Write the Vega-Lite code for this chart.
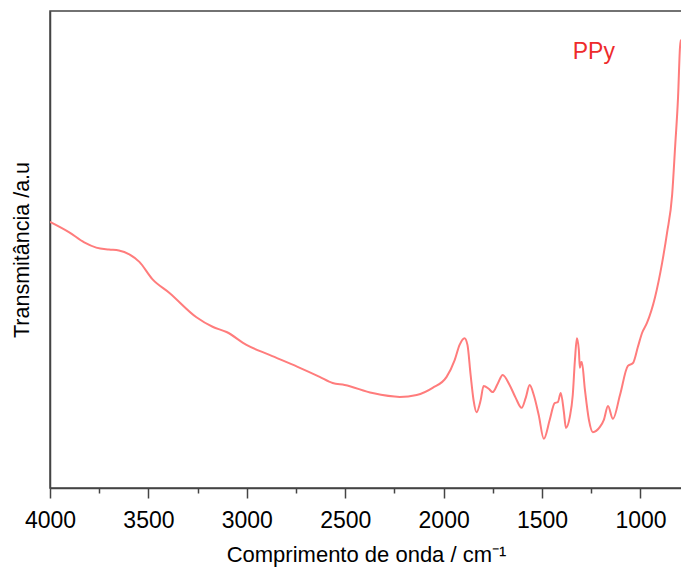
{
  "$schema": "https://vega.github.io/schema/vega-lite/v6.json",
  "width": 632,
  "height": 477,
  "autosize": {"type": "none"},
  "padding": {"left": 50, "top": 11, "right": 0, "bottom": 87},
  "background": "white",
  "config": {
    "view": {"stroke": "#444444", "strokeWidth": 1.5},
    "font": "Liberation Sans"
  },
  "layer": [
    {
      "data": {
        "values": [
          {"wn": 4000, "T": 55.8}, {"wn": 3902, "T": 53.6}, {"wn": 3826, "T": 51.5}, {"wn": 3765, "T": 50.4},
          {"wn": 3700, "T": 50.0}, {"wn": 3650, "T": 49.8}, {"wn": 3597, "T": 49.0}, {"wn": 3546, "T": 47.4},
          {"wn": 3480, "T": 43.8}, {"wn": 3393, "T": 40.9}, {"wn": 3256, "T": 35.8}, {"wn": 3174, "T": 33.8},
          {"wn": 3103, "T": 32.7}, {"wn": 3002, "T": 30.0}, {"wn": 2885, "T": 27.9}, {"wn": 2742, "T": 25.4},
          {"wn": 2630, "T": 23.3}, {"wn": 2564, "T": 22.0}, {"wn": 2503, "T": 21.6}, {"wn": 2361, "T": 19.9},
          {"wn": 2223, "T": 19.1}, {"wn": 2137, "T": 19.5}, {"wn": 2056, "T": 21.0}, {"wn": 1985, "T": 23.3},
          {"wn": 1944, "T": 26.8}, {"wn": 1919, "T": 30.0}, {"wn": 1894, "T": 31.4}, {"wn": 1879, "T": 30.0},
          {"wn": 1863, "T": 23.7}, {"wn": 1848, "T": 18.4}, {"wn": 1833, "T": 15.9}, {"wn": 1812, "T": 18.4},
          {"wn": 1797, "T": 21.4}, {"wn": 1771, "T": 20.8}, {"wn": 1751, "T": 20.1}, {"wn": 1726, "T": 21.8},
          {"wn": 1700, "T": 23.7}, {"wn": 1665, "T": 21.6}, {"wn": 1634, "T": 18.9}, {"wn": 1604, "T": 16.8},
          {"wn": 1583, "T": 18.9}, {"wn": 1563, "T": 21.6}, {"wn": 1542, "T": 19.5}, {"wn": 1517, "T": 15.3},
          {"wn": 1491, "T": 10.3}, {"wn": 1461, "T": 14.3}, {"wn": 1436, "T": 17.8}, {"wn": 1420, "T": 18.0},
          {"wn": 1405, "T": 19.9}, {"wn": 1389, "T": 15.9}, {"wn": 1379, "T": 12.6}, {"wn": 1359, "T": 14.9},
          {"wn": 1344, "T": 19.5}, {"wn": 1333, "T": 26.8}, {"wn": 1323, "T": 31.4}, {"wn": 1313, "T": 28.9},
          {"wn": 1308, "T": 25.2}, {"wn": 1303, "T": 26.2}, {"wn": 1298, "T": 26.4}, {"wn": 1282, "T": 20.5},
          {"wn": 1262, "T": 14.3}, {"wn": 1242, "T": 11.7}, {"wn": 1206, "T": 12.8}, {"wn": 1186, "T": 14.3},
          {"wn": 1165, "T": 17.2}, {"wn": 1140, "T": 14.5}, {"wn": 1104, "T": 19.5}, {"wn": 1064, "T": 25.6},
          {"wn": 1038, "T": 26.2}, {"wn": 1013, "T": 29.6}, {"wn": 992, "T": 32.5}, {"wn": 967, "T": 34.6},
          {"wn": 926, "T": 40.0}, {"wn": 890, "T": 47.2}, {"wn": 865, "T": 53.5}, {"wn": 839, "T": 61.5},
          {"wn": 824, "T": 71.5}, {"wn": 809, "T": 82.0}, {"wn": 799, "T": 92.5}, {"wn": 794, "T": 94.0}
        ]
      },
      "mark": {"type": "line", "color": "#ff7c7c", "strokeWidth": 2, "interpolate": "monotone", "clip": true},
      "encoding": {
        "x": {
          "field": "wn",
          "type": "quantitative",
          "sort": null,
          "scale": {"domain": [4000, 789], "nice": false, "zero": false},
          "axis": {
            "title": "Comprimento de onda / cm⁻¹",
            "values": [4000, 3750, 3500, 3250, 3000, 2750, 2500, 2250, 2000, 1750, 1500, 1250, 1000],
            "labelExpr": "datum.value % 500 === 0 ? datum.label : ''",
            "format": "d",
            "grid": false,
            "domainColor": "#444444",
            "domainWidth": 1.5,
            "tickColor": "#444444",
            "tickWidth": 1.5,
            "tickSize": {"condition": {"test": "datum.value % 500 === 0", "value": 10}, "value": 5},
            "labelFontSize": 23,
            "labelColor": "#000000",
            "labelPadding": 11,
            "labelFlush": false,
            "labelOverlap": false,
            "titleFontSize": 22,
            "titleFontWeight": "normal",
            "titleColor": "#000000",
            "titlePadding": 12
          }
        },
        "y": {
          "field": "T",
          "type": "quantitative",
          "scale": {"domain": [0, 100], "nice": false},
          "axis": {
            "title": "Transmitância /a.u",
            "ticks": false,
            "labels": false,
            "grid": false,
            "domainColor": "#444444",
            "domainWidth": 1.5,
            "titleFontSize": 21.5,
            "titleFontWeight": "normal",
            "titleColor": "#000000",
            "titlePadding": 17
          }
        }
      }
    },
    {
      "data": {"values": [{"wn": 1237, "T": 91.3, "label": "PPy"}]},
      "mark": {"type": "text", "color": "#ee2b2b", "fontSize": 23, "align": "center", "baseline": "middle"},
      "encoding": {
        "x": {"field": "wn", "type": "quantitative"},
        "y": {"field": "T", "type": "quantitative"},
        "text": {"field": "label"}
      }
    }
  ]
}
